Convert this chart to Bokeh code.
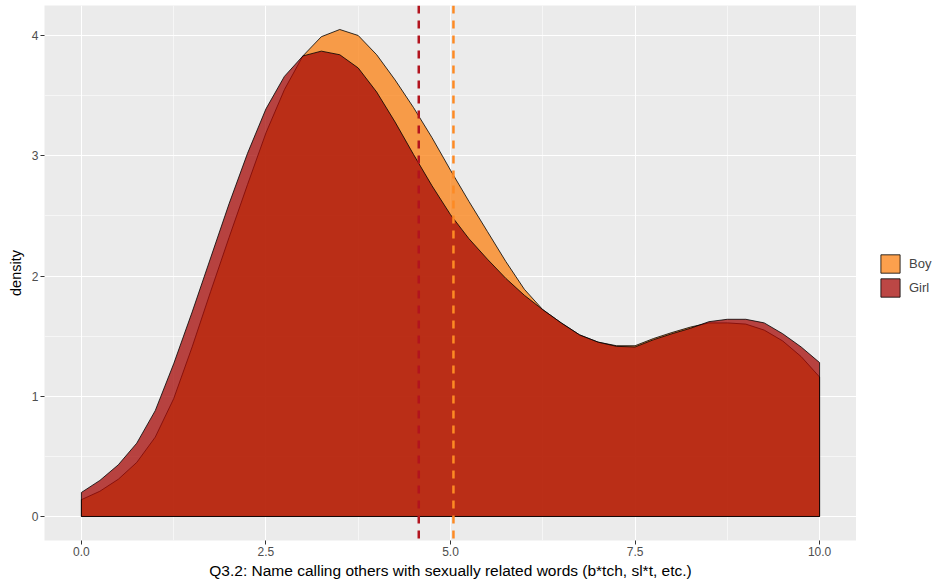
from bokeh.plotting import figure
from bokeh.layouts import row
from bokeh.models import Range1d, FixedTicker, Span, Legend, LegendItem
from bokeh.embed import file_html
from bokeh.resources import INLINE

# ---- data ----
x_grid = [0.0, 0.25, 0.5, 0.75, 1.0, 1.25, 1.5, 1.75, 2.0, 2.25, 2.5, 2.75, 3.0, 3.25, 3.5,
          3.75, 4.0, 4.25, 4.5, 4.75, 5.0, 5.25, 5.5, 5.75, 6.0, 6.25, 6.5, 6.75, 7.0, 7.25,
          7.5, 7.75, 8.0, 8.25, 8.5, 8.75, 9.0, 9.25, 9.5, 9.75, 10.0]
boy_density = [0.14, 0.21, 0.31, 0.45, 0.66, 0.98, 1.41, 1.87, 2.32, 2.76, 3.19, 3.55, 3.83, 3.99, 4.05,
               4.00, 3.84, 3.63, 3.40, 3.15, 2.88, 2.62, 2.37, 2.12, 1.89, 1.72, 1.61, 1.51, 1.45, 1.42,
               1.42, 1.48, 1.53, 1.575, 1.61, 1.61, 1.60, 1.55, 1.46, 1.33, 1.16]
girl_density = [0.20, 0.30, 0.43, 0.61, 0.88, 1.27, 1.70, 2.15, 2.60, 3.02, 3.39, 3.66, 3.83, 3.87, 3.84,
                3.73, 3.53, 3.28, 3.01, 2.75, 2.51, 2.31, 2.14, 1.98, 1.84, 1.72, 1.61, 1.51, 1.45, 1.415,
                1.41, 1.47, 1.52, 1.565, 1.62, 1.64, 1.64, 1.61, 1.52, 1.41, 1.28]
boy_mean = 5.04
girl_mean = 4.57
groups = ["Boy", "Girl"]
x_ticks = [0.0, 2.5, 5.0, 7.5, 10.0]
x_tick_labels = ["0.0", "2.5", "5.0", "7.5", "10.0"]
y_ticks = [0, 1, 2, 3, 4]
y_tick_labels = ["0", "1", "2", "3", "4"]
x_title = "Q3.2: Name calling others with sexually related words (b*tch, sl*t, etc.)"
y_title = "density"

FONT = "Liberation Sans"
BOY_FILL = "#FB8012"
GIRL_FILL = "#A60A07"
ALPHA = 0.75

H = 585
BL, BT, BB = 44, 5, 45
MAIN_W = 856
LEG_W = 937 - MAIN_W

p = figure(width=MAIN_W, height=H, output_backend="svg", toolbar_location=None,
           x_range=Range1d(-0.5, 10.5), y_range=Range1d(-0.1996, 4.2495),
           min_border_left=BL, min_border_right=0, min_border_top=BT, min_border_bottom=BB)
p.background_fill_color = "#EBEBEB"
p.border_fill_color = "white"
p.outline_line_color = None

# grids
p.xaxis.ticker = FixedTicker(ticks=x_ticks, minor_ticks=[1.25, 3.75, 6.25, 8.75])
p.yaxis.ticker = FixedTicker(ticks=y_ticks, minor_ticks=[0.5, 1.5, 2.5, 3.5])
for g in (p.xgrid, p.ygrid):
    g.grid_line_color = "white"
    g.grid_line_width = 1.1
    g.minor_grid_line_color = "white"
    g.minor_grid_line_width = 0.55

# axes
for ax in (p.xaxis, p.yaxis):
    ax.axis_line_color = None
    ax.major_tick_line_color = "#333333"
    ax.major_tick_line_width = 1
    ax.major_tick_out = 4
    ax.major_tick_in = 0
    ax.minor_tick_line_color = None
    ax.major_label_text_font = FONT
    ax.major_label_text_font_size = "12px"
    ax.major_label_text_color = "#4D4D4D"
    ax.major_label_standoff = 2
    ax.axis_label_text_font = FONT
    ax.axis_label_text_font_style = "normal"
    ax.axis_label_text_color = "black"
p.xaxis.axis_label_text_font_size = "15.5px"
p.yaxis.axis_label_text_font_size = "14.5px"
p.xaxis.axis_label_standoff = 3
p.yaxis.axis_label_standoff = 5
p.xaxis.major_label_overrides = {t: l for t, l in zip(x_ticks, x_tick_labels)}
p.yaxis.major_label_overrides = {t: l for t, l in zip(y_ticks, y_tick_labels)}
p.xaxis.axis_label = x_title
p.yaxis.axis_label = y_title

# density areas (full outline, like the reference)
def poly(ys):
    return [x_grid[0]] + list(x_grid) + [x_grid[-1]], [0] + list(ys) + [0]

bx, by = poly(boy_density)
gx, gy = poly(girl_density)
p.patch(bx, by, fill_color=BOY_FILL, fill_alpha=ALPHA, line_color="black", line_width=0.8)
p.patch(gx, gy, fill_color=GIRL_FILL, fill_alpha=ALPHA, line_color="black", line_width=0.8)

# mean lines
p.add_layout(Span(location=girl_mean, dimension="height", line_color="#B2141E",
                  line_dash="8 7", line_width=2.5))
p.add_layout(Span(location=boy_mean, dimension="height", line_color="#FD8A24",
                  line_dash="8 7", line_width=2.5))

# legend panel (separate small figure to the right)
pl = figure(width=LEG_W, height=H, output_backend="svg", toolbar_location=None,
            x_range=Range1d(0, LEG_W), y_range=Range1d(0, H),
            min_border_left=0, min_border_right=0, min_border_top=0, min_border_bottom=0,
            x_axis_type=None, y_axis_type=None)
pl.background_fill_color = "white"
pl.border_fill_color = "white"
pl.outline_line_color = None
pl.grid.visible = False
k_boy = pl.patch([-20, -10, -10], [-20, -20, -10], fill_color=BOY_FILL, fill_alpha=ALPHA,
                 line_color="black", line_width=0.8)
k_girl = pl.patch([-20, -10, -10], [-20, -20, -10], fill_color=GIRL_FILL, fill_alpha=ALPHA,
                  line_color="black", line_width=0.8)
legend = Legend(items=[LegendItem(label=groups[0], renderers=[k_boy]),
                       LegendItem(label=groups[1], renderers=[k_girl])],
                location=(22, 241), margin=0, padding=0, spacing=1,
                glyph_width=24, glyph_height=23, label_standoff=7,
                label_text_font=FONT, label_text_font_size="13px",
                border_line_color=None, background_fill_alpha=0)
pl.add_layout(legend)

layout = row(p, pl, spacing=0)
open("out.html", "w").write(file_html(layout, INLINE))
